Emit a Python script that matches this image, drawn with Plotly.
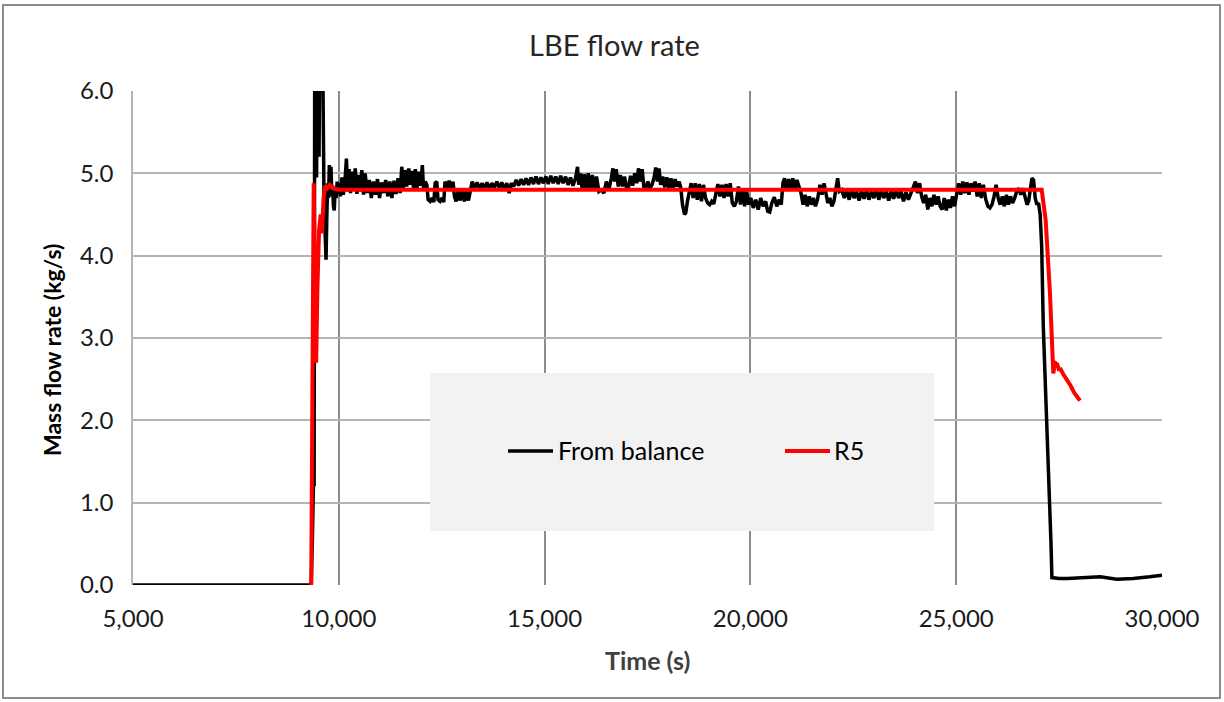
import plotly.graph_objects as go

# ---- measured mass flow rate, derived from the balance (time in s, kg/s) ----
balance_t = [
    5000, 9330, 9360, 9385, 9400, 9415, 9440, 9460, 9478, 9510, 9520, 9535,
    9560, 9590, 9615, 9640, 9665, 9690, 9710, 9730, 9750, 9770, 9790, 9810,
    9830, 9850, 9870, 9890, 9910, 9935, 9960, 9985,
    10005, 10040, 10075, 10110, 10150, 10185, 10215, 10250, 10285, 10320,
    10360, 10400, 10440, 10480, 10520, 10560, 10600, 10640, 10690, 10740,
    10790, 10840, 10890, 10940, 10990, 11040, 11090, 11140, 11190, 11240,
    11290, 11340, 11390, 11440, 11490, 11530, 11570, 11610, 11650, 11700,
    11740, 11780, 11820, 11860, 11900, 11940, 11990, 12030, 12060,
    12100, 12140, 12170, 12220, 12270, 12310, 12340, 12380, 12410, 12460,
    12510, 12550, 12580, 12630, 12680, 12730, 12775, 12810, 12850, 12900,
    12950, 13000, 13050, 13100, 13150, 13200, 13240,
    13300, 13360, 13420, 13480, 13540, 13600, 13660, 13720, 13780, 13840,
    13900, 13960, 14020, 14080, 14140, 14190,
    14250, 14310, 14370, 14430, 14490, 14550, 14610, 14670, 14730, 14790,
    14850, 14910, 14970, 15030, 15090, 15150, 15210, 15270, 15330, 15390,
    15450, 15510, 15570, 15630, 15690, 15750,
    15800, 15830, 15870, 15910, 15960, 16010, 16060, 16110, 16160, 16210,
    16260, 16320, 16380, 16440, 16500, 16560, 16620, 16660, 16700, 16740,
    16790, 16840, 16890, 16940, 16990, 17040, 17090, 17140, 17190, 17240,
    17280, 17330, 17370, 17410, 17460, 17510, 17560, 17610, 17660, 17700,
    17740, 17780, 17820, 17870, 17920, 17970, 18020, 18070, 18120, 18170,
    18220, 18270,
    18310, 18350, 18400, 18430, 18470, 18520, 18560,
    18610, 18660, 18710, 18760, 18810, 18860, 18910, 18960, 19010, 19060,
    19110, 19160, 19210, 19260, 19310, 19360, 19410, 19460, 19510, 19560,
    19610, 19660, 19710, 19760, 19810, 19860, 19910, 19960,
    20010, 20070, 20130, 20190, 20250, 20310, 20370, 20420, 20470, 20520,
    20580, 20640, 20700, 20750,
    20790, 20830, 20880, 20930, 20980, 21030, 21080, 21130, 21180,
    21230, 21280, 21330, 21380, 21430, 21480, 21530, 21580, 21630, 21690,
    21740, 21790, 21840, 21880, 21930, 21980, 22030, 22080, 22120, 22160,
    22220, 22280, 22340, 22400, 22460, 22520, 22580, 22640, 22700, 22760,
    22820, 22880, 22940, 23000, 23060, 23120, 23180, 23240, 23300, 23360,
    23420, 23480, 23540, 23600, 23660, 23720, 23780, 23840, 23900,
    23960, 24010, 24060, 24110, 24160,
    24210, 24260, 24310, 24360, 24410, 24460, 24510, 24560, 24610, 24660,
    24710, 24760, 24810, 24860, 24910, 24960,
    25010, 25060, 25110, 25160, 25210, 25260, 25310, 25360, 25410, 25460,
    25510, 25560, 25610,
    25660, 25720, 25770, 25820, 25870, 25920, 25970, 26020,
    26070, 26120, 26170, 26220, 26270, 26320, 26370, 26420, 26470, 26520,
    26570, 26620, 26670, 26720, 26760,
    26800, 26840, 26880, 26920, 26960, 27000, 27040,
    27077, 27116, 27174, 27237, 27279, 27303, 27325,
    27500, 27700, 28000, 28500, 28900, 29100, 29300, 29700, 29900, 30000,
]
balance_flow = [
    0.0, 0.0, 0.6, 1.25, 1.2, 6.4, 6.6, 4.95, 6.5, 6.3, 5.2, 6.4,
    6.5, 6.2, 6.1, 4.7, 4.2, 3.95, 4.5, 4.88, 4.7, 5.1, 4.8, 5.08,
    4.72, 4.85, 4.6, 4.55, 4.8, 4.7, 4.9, 4.75,
    4.88, 4.72, 4.95, 4.74, 4.9, 5.18, 4.78, 5.05, 4.76, 5.02,
    4.8, 5.06, 4.75, 4.98, 4.78, 5.04, 4.74, 5.0, 4.76, 4.92,
    4.7, 4.9, 4.74, 4.93, 4.7, 4.89, 4.76, 4.92, 4.72, 4.9,
    4.7, 4.91, 4.75, 4.94, 4.76, 5.08, 4.82, 5.04, 4.84, 5.06,
    4.86, 5.03, 4.8, 5.05, 4.82, 5.02, 4.85, 5.1, 4.8,
    4.9, 4.86, 4.68, 4.66, 4.7, 4.65, 4.88, 4.9, 4.68, 4.66,
    4.7, 4.65, 4.9, 4.82, 4.91, 4.8, 4.9, 4.72, 4.66, 4.78,
    4.67, 4.8, 4.66, 4.78, 4.67, 4.8, 4.9,
    4.82, 4.89, 4.81, 4.88, 4.82, 4.89, 4.81, 4.88, 4.83, 4.9,
    4.82, 4.89, 4.8, 4.88, 4.76, 4.88,
    4.84, 4.92, 4.85, 4.93, 4.86, 4.94, 4.86, 4.95, 4.87, 4.96,
    4.87, 4.95, 4.88, 4.96, 4.87, 4.97, 4.88, 4.96, 4.87, 4.97,
    4.88, 4.96, 4.86, 4.95, 4.85, 4.94,
    5.08, 4.86, 5.0, 4.82, 4.99, 4.8, 5.0, 4.82, 4.98, 4.8,
    4.96, 4.78, 4.8, 4.76, 4.9, 4.8, 4.94, 5.06, 4.9, 5.05,
    4.84, 4.98, 4.84, 4.96, 4.82, 4.84, 4.97, 4.85, 5.0, 4.88,
    5.06, 4.9, 5.05, 4.84, 4.82, 4.9, 4.82, 4.86, 4.95, 5.07,
    4.9, 5.06, 4.86, 4.96, 4.83, 4.95, 4.82, 4.94, 4.82, 4.93,
    4.84, 4.9,
    4.82, 4.62, 4.5, 4.52, 4.66, 4.8, 4.88,
    4.7, 4.88, 4.68, 4.87, 4.66, 4.86, 4.7, 4.64, 4.62, 4.66,
    4.63, 4.74, 4.87, 4.72, 4.86, 4.7, 4.87, 4.72, 4.88, 4.64,
    4.6, 4.66, 4.84, 4.62, 4.82, 4.6, 4.78, 4.62,
    4.7, 4.58, 4.68, 4.56, 4.7, 4.6, 4.66, 4.54, 4.53, 4.64,
    4.71, 4.6, 4.68, 4.62,
    4.88, 4.94, 4.8, 4.93, 4.82, 4.94, 4.8, 4.92, 4.84,
    4.76, 4.62, 4.74, 4.6, 4.72, 4.62, 4.7, 4.6, 4.68, 4.86,
    4.74, 4.88, 4.72, 4.64, 4.7, 4.6, 4.66, 4.8, 4.94, 4.78,
    4.8, 4.7, 4.79, 4.68, 4.8, 4.7, 4.78, 4.67, 4.79, 4.69,
    4.8, 4.68, 4.78, 4.7, 4.8, 4.68, 4.79, 4.7, 4.78, 4.67,
    4.79, 4.69, 4.8, 4.7, 4.78, 4.66, 4.77, 4.68, 4.76,
    4.86, 4.9, 4.76, 4.88, 4.72,
    4.64, 4.74, 4.56, 4.7, 4.6, 4.74, 4.62, 4.72, 4.6, 4.56,
    4.7, 4.55, 4.68, 4.58, 4.72, 4.6,
    4.76, 4.88, 4.74, 4.9, 4.76, 4.89, 4.74, 4.88, 4.78, 4.9,
    4.72, 4.88, 4.7,
    4.86, 4.68, 4.6, 4.58, 4.62, 4.72, 4.86, 4.7,
    4.62, 4.72, 4.6, 4.74, 4.62, 4.72, 4.64, 4.7, 4.78, 4.82,
    4.74, 4.82, 4.7, 4.62, 4.66,
    4.84, 4.94, 4.92, 4.7, 4.62, 4.64, 4.5,
    4.11, 3.14, 2.33, 1.52, 1.12, 0.51, 0.09,
    0.08, 0.08, 0.09, 0.1, 0.07, 0.07, 0.08, 0.1, 0.12, 0.12,
]

# ---- RELAP5 (R5) calculated mass flow rate ----
r5_t = [
    9330, 9390, 9430, 9450, 9480, 9520, 9560, 9590, 9630, 9670,
    9720, 9780, 9850, 10000, 27077, 27174, 27279, 27344, 27359, 27400,
    27456, 27490, 27538, 27602, 27684, 27781, 27862, 27942, 28007,
]
r5_flow = [
    0.0, 4.88, 3.5, 2.7, 3.6, 4.3, 4.5, 4.27, 4.7, 4.85,
    4.82, 4.86, 4.82, 4.8, 4.8, 4.43, 3.54, 2.73, 2.57, 2.7,
    2.68, 2.62, 2.62, 2.56, 2.5, 2.42, 2.34, 2.28, 2.24,
]

series_names = ["From balance", "R5"]
series_colors = ["#000000", "#ff0000"]

chart_title = "LBE flow rate"
x_title = "Time (s)"
y_title = "Mass flow rate (kg/s)"
x_ticks = [5000, 10000, 15000, 20000, 25000, 30000]
y_ticks = [0, 1, 2, 3, 4, 5, 6]

FONT = "Lato, 'Open Sans', sans-serif"
W, H = 1224, 702
ML, MR, MT, MB = 133, 62, 91, 117
PW, PH = W - ML - MR, H - MT - MB


def px_x(p):
    """pixel column -> paper fraction"""
    return (p - ML) / PW


def px_y(p):
    """pixel row -> paper fraction"""
    return (H - MB - p) / PH


fig = go.Figure()
fig.add_trace(go.Scatter(
    x=balance_t, y=balance_flow, mode="lines", name=series_names[0],
    line=dict(color=series_colors[0], width=3.5), showlegend=False,
))
fig.add_trace(go.Scatter(
    x=r5_t, y=r5_flow, mode="lines", name=series_names[1],
    line=dict(color=series_colors[1], width=4), showlegend=False,
))

shapes = [
    # outer chart frame
    dict(type="rect", xref="paper", yref="paper",
         x0=px_x(3), x1=px_x(1220), y0=px_y(698), y1=px_y(5),
         line=dict(color="#8c8c8c", width=2), fillcolor="rgba(0,0,0,0)",
         layer="below"),
    # legend box
    dict(type="rect", xref="paper", yref="paper",
         x0=px_x(430), x1=px_x(934), y0=px_y(531), y1=px_y(373),
         line=dict(width=0), fillcolor="#f2f2f2", layer="above"),
    # legend line samples
    dict(type="line", xref="paper", yref="paper",
         x0=px_x(508), x1=px_x(553), y0=px_y(451), y1=px_y(451),
         line=dict(color=series_colors[0], width=3.5), layer="above"),
    dict(type="line", xref="paper", yref="paper",
         x0=px_x(785), x1=px_x(830), y0=px_y(451), y1=px_y(451),
         line=dict(color=series_colors[1], width=4), layer="above"),
]

annotations = [
    dict(text=series_names[0], xref="paper", yref="paper",
         x=px_x(556), y=px_y(450), xanchor="left", yanchor="middle",
         showarrow=False, font=dict(family=FONT, size=25, color="#000000")),
    dict(text=series_names[1], xref="paper", yref="paper",
         x=px_x(832), y=px_y(450), xanchor="left", yanchor="middle",
         showarrow=False, font=dict(family=FONT, size=25, color="#000000")),
    dict(text="<b>" + y_title + "</b>", xref="paper", yref="paper",
         x=px_x(52), y=px_y(350), xanchor="center", yanchor="middle",
         textangle=-90, showarrow=False,
         font=dict(family=FONT, size=23, color="#000000")),
    dict(text="<b>" + x_title + "</b>", xref="paper", yref="paper",
         x=px_x(647), y=px_y(660), xanchor="center", yanchor="middle",
         showarrow=False, font=dict(family=FONT, size=25, color="#404040")),
    dict(text=chart_title, xref="paper", yref="paper",
         x=px_x(614), y=px_y(45), xanchor="center", yanchor="middle",
         showarrow=False, font=dict(family=FONT, size=29, color="#262626")),
]

fig.update_layout(
    width=W, height=H,
    margin=dict(l=ML, r=MR, t=MT, b=MB, pad=0),
    paper_bgcolor="#ffffff", plot_bgcolor="#ffffff",
    shapes=shapes, annotations=annotations,
    showlegend=False,
)
fig.update_xaxes(
    range=[5000, 30000], tickvals=x_ticks, tickformat=",d",
    showgrid=True, gridcolor="#8c8c8c", gridwidth=1.5,
    zeroline=False, showline=False, ticks="",
    ticklabelstandoff=17,
    tickfont=dict(family=FONT, size=24, color="#1a1a1a"),
)
fig.update_yaxes(
    range=[0, 6], tickvals=y_ticks, tickformat=".1f",
    showgrid=True, gridcolor="#b4b4b4", gridwidth=1.5,
    zeroline=False, showline=True, linecolor="#b4b4b4", linewidth=1.5,
    mirror=False, ticks="",
    ticklabelstandoff=13,
    tickfont=dict(family=FONT, size=24, color="#1a1a1a"),
)

fig.write_html("out.html")
